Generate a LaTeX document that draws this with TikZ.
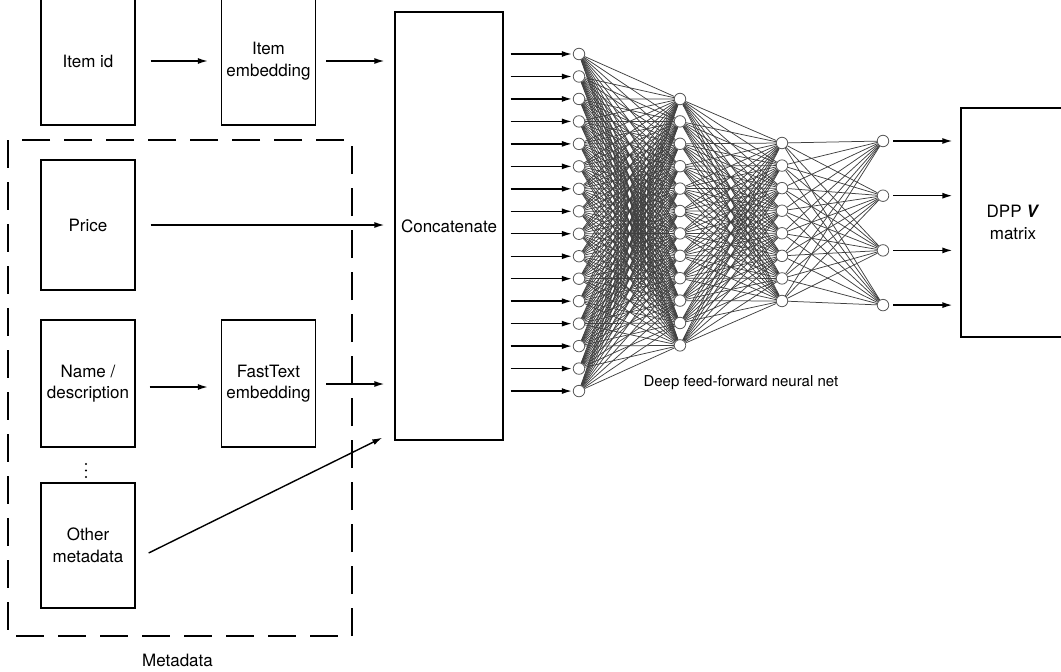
\documentclass[tikz,border=0pt]{standalone}
\usepackage{fontspec}
\setmainfont{TeX Gyre Heros}
\usetikzlibrary{arrows.meta,backgrounds}
\begin{document}
\begin{tikzpicture}[x=1pt,y=-1pt,
  box/.style={draw,line width=1.3pt,minimum width=94pt,inner sep=0pt,align=center,font=\fontsize{17}{21.5}\selectfont},
  arr/.style={line width=1.4pt,-{Latex[length=10pt,width=6pt]}},
  neuron/.style={circle,draw=black!65,fill=white,line width=0.8pt,minimum size=11.5pt,inner sep=0pt},
  syn/.style={draw=black!75,line width=0.75pt},
  lbl/.style={font=\fontsize{17}{21.5}\selectfont}]
\useasboundingbox (0,0) rectangle (1061,672);
% boxes
\node[box,minimum height=128pt] (itemid) at (88,61) {Item id};
\node[box,minimum height=128pt] (itememb) at (268.5,61) {Item\\embedding};
\node[box,minimum width=108pt,minimum height=428pt] (concat) at (449,226) {Concatenate};
\node[box,minimum height=130pt] (price) at (88,225) {Price};
\node[box,minimum height=127pt] (name) at (88,383.5) {Name /\\description};
\node[box,minimum height=127pt] (fasttext) at (268.5,383.5) {FastText\\embedding};
\node[box,minimum height=125pt] (other) at (88,545.5) {Other\\metadata};
\node[box,minimum width=104pt,minimum height=229pt] (dpp) at (1013,222.5) {DPP \textbf{\textit{V}}\\matrix};
% dashed metadata group
\draw[line width=1.3pt,dash pattern=on 28pt off 14pt] (8,140) rectangle (352,636);
\node[lbl] (metalbl) at (177.5,660) {Metadata};
\fill (86,464) circle (1.1pt) (86,470.5) circle (1.1pt) (86,477) circle (1.1pt);
% left arrows
\draw[arr,shorten <=15pt,shorten >=13pt] (itemid) -- (itememb);
\draw[arr,shorten <=10pt,shorten >=10pt] (itememb) -- (itememb -| concat.west);
\draw[arr,shorten <=15pt,shorten >=10pt] (price.east) -- (price.east -| concat.west);
\draw[arr,shorten <=14pt,shorten >=13pt] ([yshift=-3.5pt]name.east) -- ([yshift=-3.5pt]name.east -| fasttext.west);
\draw[arr,shorten <=10pt,shorten >=10pt] ([yshift=-0.5pt]fasttext.east) -- ([yshift=-0.5pt]fasttext.east -| concat.west);
\coordinate (otherstart) at ([xshift=13pt,yshift=-7.5pt]other.east);
\coordinate (otherend) at ([xshift=-12pt,yshift=3pt]concat.south west);
\draw[arr] (otherstart) -- (otherend);
% network nodes
\foreach \i in {1,...,16} \node[neuron] (a\i) at (579,{54+22.47*(\i-1)}) {};
\foreach \i in {1,...,12} \node[neuron] (b\i) at (680,{99+22.4*(\i-1)}) {};
\foreach \i in {1,...,8} \node[neuron] (c\i) at (782,{143+22.57*(\i-1)}) {};
\foreach \i in {1,...,4} \node[neuron] (d\i) at (883,{141+54.7*(\i-1)}) {};
\begin{scope}[on background layer]
\foreach \i in {1,...,16} \foreach \j in {1,...,12} \draw[syn] (a\i) -- (b\j);
\foreach \i in {1,...,12} \foreach \j in {1,...,8} \draw[syn] (b\i) -- (c\j);
\foreach \i in {1,...,8} \foreach \j in {1,...,4} \draw[syn] (c\i) -- (d\j);
\end{scope}
\foreach \i in {1,...,16} \draw[arr,shorten <=7pt,shorten >=1pt] (a\i -| concat.east) -- (a\i.west);
\foreach \i in {1,...,4} \draw[arr,shorten <=4pt,shorten >=8pt] (d\i.east) -- (d\i -| dpp.west);
\node[anchor=base west,font=\fontsize{15}{18}\selectfont] (netlbl) at (640,386) {Deep feed-forward neural net};
\end{tikzpicture}
\end{document}
